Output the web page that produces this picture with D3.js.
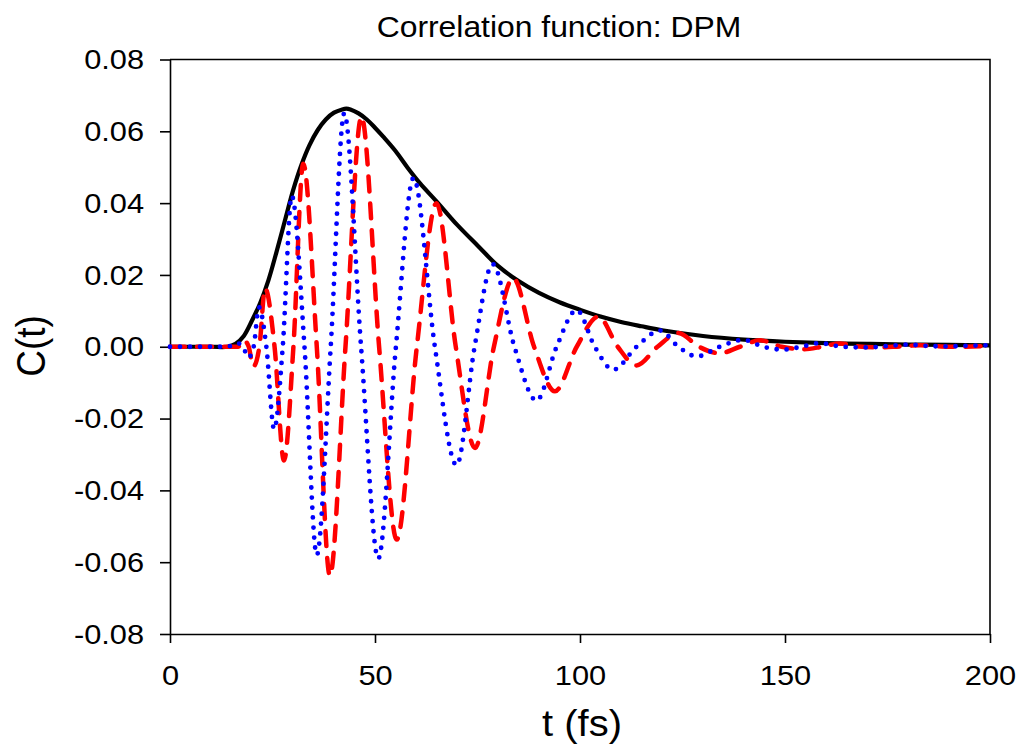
<!DOCTYPE html>
<html>
<head>
<meta charset="utf-8">
<script src="https://cdn.jsdelivr.net/npm/d3@7"></script>
<style>
  body { margin: 0; background: #fff; }
  text { font-family: "Liberation Sans", Arial, sans-serif; fill: #000; }
</style>
</head>
<body>
<div id="container"></div>
<script>
/* CONSTANTS AND GLOBALS */
const width = 1023;
const height = 750;
const margin = { top: 59.5, bottom: 116, left: 170, right: 33 };

/* DATA */
// black: envelope |C(t)|
const envelope = [
  [0, 0], [10, 0], [14, 0], [16, 0.0008], [18, 0.003], [20, 0.0073], [22, 0.0122],
  [24, 0.0185], [26, 0.0265], [28, 0.035], [30, 0.0435], [32, 0.0505], [34, 0.0561],
  [36, 0.0603], [38, 0.0633], [40, 0.0652], [42, 0.0661], [43, 0.0663], [44, 0.0661],
  [46, 0.065], [48, 0.0633], [50, 0.061], [52, 0.0585], [55, 0.0545], [58, 0.0498],
  [61, 0.0455], [65, 0.0405], [70, 0.034], [75, 0.0282], [80, 0.0225], [85, 0.0183],
  [90, 0.015], [95, 0.0124], [100, 0.0103], [105, 0.0084], [110, 0.0069],
  [115, 0.0057], [120, 0.0046], [130, 0.003], [140, 0.002], [150, 0.0014],
  [160, 0.001], [170, 0.0008], [180, 0.0006], [190, 0.0005], [200, 0.0004]
];

// blue dotted: extrema and zero crossings
const blueSeries = [
  [0, 0], [14, 0], [16.4, 0.001], [17.8, 0], [19.1, -0.003], [20.4, 0], [21.7, 0.011],
  [23.5, 0], [25.4, -0.023], [27.5, 0], [29.7, 0.042], [32.8, 0], [35.8, -0.058],
  [39.2, 0], [42.5, 0.065], [46.6, 0], [50.8, -0.059], [55.1, 0], [59.4, 0.047],
  [64.6, 0], [69.9, -0.033], [74.3, 0], [78.7, 0.023], [84, 0], [89.4, -0.015],
  [94.3, 0], [99.2, 0.0102], [103.6, 0], [108.1, -0.0064], [113.8, 0], [119.5, 0.0045],
  [124, 0], [128.5, -0.0027], [134.1, 0], [139.8, 0.0019], [144.7, 0], [149.6, -0.0008],
  [154, 0], [158.5, 0.001], [164, 0], [170, -0.0002], [175, 0.0002], [180, 0.0006],
  [185, 0.0002], [190, 0.0001], [195, 0.0003], [200, 0.0004]
];

// red dashed: extrema and zero crossings
const redSeries = [
  [0, 0], [15, 0], [16.6, 0], [18, 0.0018], [19.2, 0], [20.3, -0.0055], [21.8, 0],
  [23.2, 0.0163], [25.5, 0], [27.8, -0.0317], [30.1, 0], [32.5, 0.051], [35.8, 0],
  [39, -0.0638], [42.8, 0], [46.7, 0.0641], [51, 0], [55.3, -0.0537], [60.2, 0],
  [65, 0.04], [69.7, 0], [74.4, -0.0282], [79, 0], [83.7, 0.0191], [88.8, 0],
  [93.9, -0.0124], [99.2, 0], [104.5, 0.0084], [109.2, 0], [113.8, -0.0052], [118.9, 0],
  [124, 0.0038], [129, 0], [134.1, -0.0018], [139, 0], [143.9, 0.0018], [149.2, 0],
  [154.5, -0.0007], [159, 0], [163.4, 0.0009], [168, 0.0001], [173, -0.0002],
  [178, 0.0001], [183, 0.0004], [188, 0.0001], [193, 0], [200, 0.0003]
];

const xTicks = [0, 50, 100, 150, 200];
const yTicks = [-0.08, -0.06, -0.04, -0.02, 0, 0.02, 0.04, 0.06, 0.08];

const stretch = "scale(1.08,1)";

/* SCALES */
const xScale = d3.scaleLinear()
  .domain([0, 200])
  .range([margin.left, width - margin.right]);

const yScale = d3.scaleLinear()
  .domain([-0.08, 0.08])
  .range([height - margin.bottom, margin.top]);

/* HTML ELEMENTS */
const svg = d3.select("#container")
  .append("svg")
  .attr("width", width)
  .attr("height", height);

// frame (top + right)
svg.append("path")
  .attr("d", `M${xScale(0)},${yScale(0.08)}H${xScale(200)}V${yScale(-0.08)}`)
  .attr("fill", "none")
  .attr("stroke", "#000")
  .attr("stroke-width", 1.6);

// axes
const xAxis = svg.append("g")
  .attr("transform", `translate(0,${yScale(-0.08)})`)
  .call(d3.axisBottom(xScale).tickValues(xTicks).tickSize(9).tickSizeOuter(0).tickPadding(22));

const yAxis = svg.append("g")
  .attr("transform", `translate(${xScale(0)},0)`)
  .call(d3.axisLeft(yScale).tickValues(yTicks).tickSize(10).tickSizeOuter(0).tickPadding(14)
    .tickFormat(d => d3.format(".2f")(d).replace("−", "-")));

[xAxis, yAxis].forEach(g => {
  g.selectAll("path, line").attr("stroke", "#000").attr("stroke-width", 1.6);
  g.selectAll("text")
    .attr("font-size", 28.5)
    .attr("font-family", "'Liberation Sans', Arial, sans-serif")
    .attr("fill", "#000")
    .attr("transform", stretch);
});

// lines
const smooth = d3.line()
  .x(d => xScale(d[0]))
  .y(d => yScale(d[1]))
  .curve(d3.curveCatmullRom);

const line = d3.line()
  .x(d => xScale(d[0]))
  .y(d => yScale(d[1]))
  .curve(d3.curveMonotoneX);

svg.append("path")
  .datum(envelope)
  .attr("d", smooth)
  .attr("fill", "none")
  .attr("stroke", "#000")
  .attr("stroke-width", 4.2);

svg.append("path")
  .datum(redSeries)
  .attr("d", line)
  .attr("fill", "none")
  .attr("stroke", "#ff0000")
  .attr("stroke-width", 4.5)
  .attr("stroke-linecap", "round")
  .attr("stroke-dasharray", "15 12");

svg.append("path")
  .datum(blueSeries)
  .attr("d", line)
  .attr("fill", "none")
  .attr("stroke", "#0000ff")
  .attr("stroke-width", 4.8)
  .attr("stroke-linecap", "round")
  .attr("stroke-dasharray", "0 10");

// titles
svg.append("text")
  .attr("transform", `translate(559,37) ${stretch}`)
  .attr("text-anchor", "middle")
  .attr("font-size", 29.5)
  .text("Correlation function: DPM");

svg.append("text")
  .attr("transform", `translate(582,736) ${stretch}`)
  .attr("text-anchor", "middle")
  .attr("font-size", 37)
  .text("t (fs)");

svg.append("text")
  .attr("transform", "translate(45,346) rotate(-90) scale(1,1.08)")
  .attr("text-anchor", "middle")
  .attr("font-size", 37)
  .text("C(t)");
</script>
</body>
</html>
